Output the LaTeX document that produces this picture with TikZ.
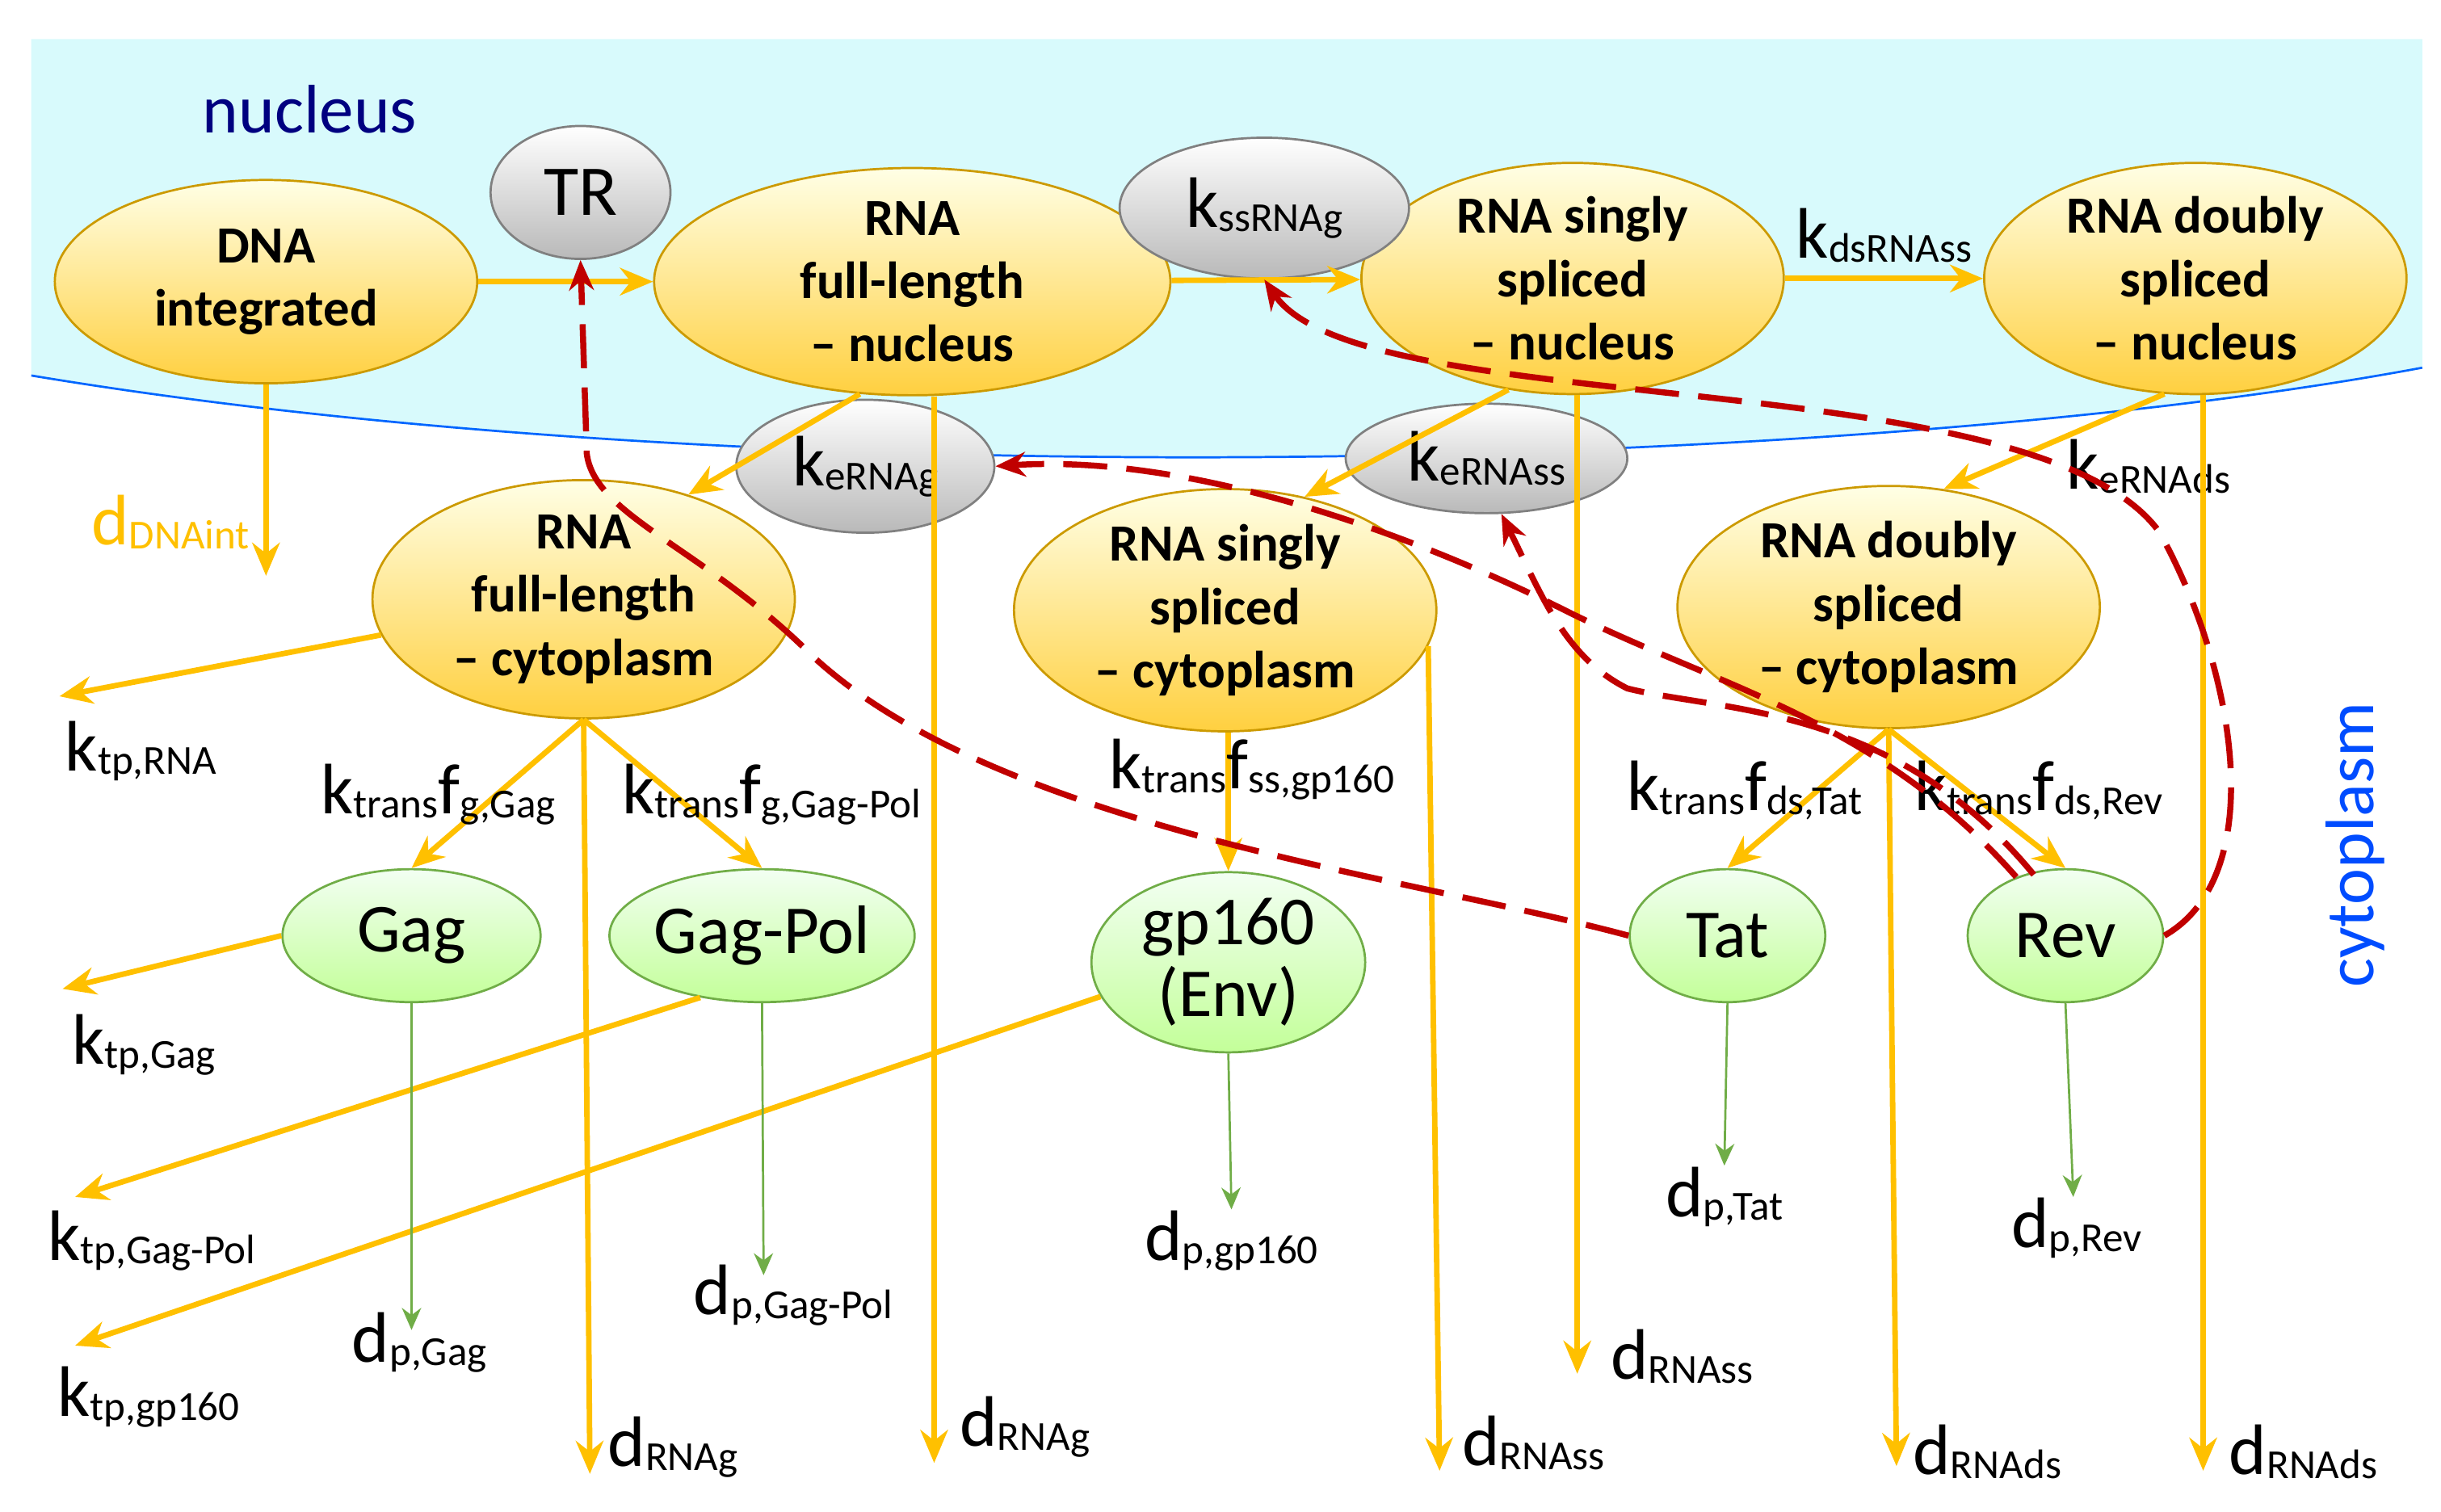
\documentclass[tikz,border=0pt]{standalone}
\usepackage{fontspec}
\setmainfont{Carlito}
\usetikzlibrary{shapes.geometric,arrows.meta}
\definecolor{orng}{HTML}{FFC000}
\definecolor{dred}{HTML}{C00000}
\definecolor{nucl}{HTML}{D8FAFC}
\definecolor{ngr}{HTML}{70AD47}
\newcommand\lb[2]{{\fontsize{26}{28}\selectfont #1}\raisebox{-0.3ex}{\fontsize{15}{16}\selectfont #2}}
\begin{document}
\begin{tikzpicture}[x=0.02cm,y=-0.02cm,
  yel/.style={ellipse,draw=orng!80!black,line width=0.8pt,top color=yellow!10,bottom color=orng!75,
    font=\fontsize{19}{23}\selectfont\bfseries,align=center,inner sep=0pt},
  gry/.style={ellipse,draw=gray,line width=0.8pt,top color=white,bottom color=gray!55,inner sep=0pt},
  grn/.style={ellipse,draw=ngr,line width=0.8pt,top color=green!5,bottom color=green!45!lime!40,
    font=\fontsize{25}{26}\selectfont,align=center,inner sep=0pt},
  oa/.style={-{Stealth[length=12pt,width=10pt]},orng,line width=2pt},
  ga/.style={-{Stealth[length=8pt,width=7pt]},ngr,line width=0.8pt},
  rd/.style={-{Stealth[length=11pt,width=9pt]},dred,line width=2.2pt,dash pattern=on 16pt off 7pt},
  lab/.style={inner sep=1pt}]
\useasboundingbox (0,0) rectangle (1560,966);
% nucleus
\fill[nucl] (20,25) -- (1548,25) -- (1548,235) .. controls (1200,300) and (500,320) .. (20,240) -- cycle;
\draw[blue!60!cyan,line width=0.8pt] (20,240) .. controls (500,320) and (1200,300) .. (1548,235);
\node[text=blue!50!black,font=\fontsize{25}{26}\selectfont] (nuc) at (198,70) {nucleus};
\node[text=blue!70!cyan,font=\fontsize{25}{26}\selectfont,rotate=90] (cyt) at (1505,540) {cytoplasm};
% RNA nodes
\node[yel,minimum width=5.4cm,minimum height=2.6cm] (dna) at (170,180) {DNA\\integrated};
\node[yel,minimum width=6.6cm,minimum height=2.7cm] (rfn) at (583,180) {RNA\\full-length\\– nucleus};
\node[yel,minimum width=5.4cm,minimum height=2.6cm] (rsn) at (1005,178) {RNA singly\\spliced\\– nucleus};
\node[yel,minimum width=5.4cm,minimum height=2.6cm] (rdn) at (1403,178) {RNA doubly\\spliced\\– nucleus};
\node[yel,minimum width=5.4cm,minimum height=2.6cm] (rfc) at (373,383) {RNA\\full-length\\– cytoplasm};
\node[yel,minimum width=5.4cm,minimum height=2.6cm] (rsc) at (783,390) {RNA singly\\spliced\\– cytoplasm};
\node[yel,minimum width=5.4cm,minimum height=2.5cm] (rdc) at (1207,388) {RNA doubly\\spliced\\– cytoplasm};
% rate nodes
\node[gry,minimum width=2.3cm,minimum height=1.7cm,font=\fontsize{26}{28}\selectfont] (tr) at (371,123) {TR};
\node[gry,minimum width=3.7cm,minimum height=1.8cm] (kss) at (808,133) {\lb{k}{ssRNAg}};
\node[gry,minimum width=3.3cm,minimum height=1.7cm] (keg) at (553,298) {\lb{k}{eRNAg}};
\node[gry,minimum width=3.6cm,minimum height=1.4cm] (kes) at (950,293) {\lb{k}{eRNAss}};
% proteins
\node[grn,minimum width=3.3cm,minimum height=1.7cm] (gag) at (263,598) {Gag};
\node[grn,minimum width=3.9cm,minimum height=1.7cm] (gp) at (487,598) {Gag-Pol};
\node[grn,minimum width=3.5cm,minimum height=1.8cm] (env) at (785,615) {gp160\\(Env)};
\node[grn,minimum width=2.5cm,minimum height=1.7cm] (tat) at (1104,598) {Tat};
\node[grn,minimum width=2.5cm,minimum height=1.7cm] (rev) at (1320,598) {Rev};
% free ends
\coordinate (eDNA) at (170,368);
\coordinate (eRfn) at (597,935);
\coordinate (eRsn) at (1008,878);
\coordinate (eRdn) at (1408,940);
\coordinate (eRfc) at (377,942);
\coordinate (tRNA) at (38,445);
\coordinate (eRsc) at (920,940);
\coordinate (eRdc) at (1212,937);
\coordinate (tGag) at (40,632);
\coordinate (tGP) at (48,765);
\coordinate (tEnv) at (48,860);
\coordinate (dGag) at (263,850);
\coordinate (dGP) at (488,815);
\coordinate (dEnv) at (787,773);
\coordinate (dTat) at (1102,745);
\coordinate (dRev) at (1325,765);
% orange transitions
\draw[oa] (dna) -- (rfn);
\draw[oa] (rfn) -- (rsn);
\draw[oa] (rsn) -- (rdn) node[midway,above=4pt,lab,text=black] {\lb{k}{dsRNAss}};
\draw[oa] (dna.south) -- (eDNA) node[pos=0.72,left=4pt,lab] {\lb{d}{DNAint}};
\draw[oa] (rfn.-115) -- (rfc.45);
\draw[oa] (rsn.-120) -- (rsc.55);
\draw[oa] (rdn.-105) -- (rdc.65);
\node[lab] (lkeds) at (1373,298) {\lb{k}{eRNAds}};
\draw[oa] (rfn.south -| eRfn) -- (eRfn) node[right=6pt,above right=0pt,lab] {};
\node[lab] (ldrg2) at (655,912) {\lb{d}{RNAg}};
\draw[oa] (rsn.south -| eRsn) -- (eRsn);
\node[lab] (ldrs1) at (1075,867) {\lb{d}{RNAss}};
\draw[oa] (rdn.south -| eRdn) -- (eRdn);
\node[lab] (ldrd2) at (1472,928) {\lb{d}{RNAds}};
\draw[oa] (rfc.190) -- (tRNA);
\node[lab] (lktr) at (90,480) {\lb{k}{tp,RNA}};
\draw[oa] (rfc.south) -- (eRfc);
\node[lab] (ldrg1) at (430,925) {\lb{d}{RNAg}};
\draw[oa] (rfc.south) -- (gag.north);
\draw[oa] (rfc.south) -- (gp.north);
\node[lab] (lkg) at (280,508) {\lb{k}{trans}\lb{f}{g,Gag}};
\node[lab] (lkgp) at (493,508) {\lb{k}{trans}\lb{f}{g,Gag-Pol}};
\draw[oa] (rsc.south -| env.north) -- (env.north);
\node[lab] (lkss) at (800,492) {\lb{k}{trans}\lb{f}{ss,gp160}};
\draw[oa] (rsc.-10 |- rsc.-10) -- (eRsc);
\node[lab] (ldrs2) at (980,922) {\lb{d}{RNAss}};
\draw[oa] (rdc.south) -- (tat.north);
\draw[oa] (rdc.south) -- (rev.north);
\draw[oa] (rdc.south) -- (eRdc);
\node[lab] (ldrd1) at (1270,928) {\lb{d}{RNAds}};
\node[lab] (lkt) at (1115,505) {\lb{k}{trans}\lb{f}{ds,Tat}};
\node[lab] (lkr) at (1303,505) {\lb{k}{trans}\lb{f}{ds,Rev}};
% protein decay / transport
\draw[oa] (gag.west) -- (tGag);
\node[lab] (lktg) at (92,668) {\lb{k}{tp,Gag}};
\draw[oa] (gp.-135) -- (tGP);
\node[lab] (lktgp) at (97,793) {\lb{k}{tp,Gag-Pol}};
\draw[oa] (env.195) -- (tEnv);
\node[lab] (lkte) at (95,893) {\lb{k}{tp,gp160}};
\draw[ga] (gag.south) -- (dGag);
\node[lab] (ldg) at (268,858) {\lb{d}{p,Gag}};
\draw[ga] (gp.south) -- (dGP);
\node[lab] (ldgp) at (507,828) {\lb{d}{p,Gag-Pol}};
\draw[ga] (env.south) -- (dEnv);
\node[lab] (lde) at (787,793) {\lb{d}{p,gp160}};
\draw[ga] (tat.south) -- (dTat);
\node[lab] (ldt) at (1102,765) {\lb{d}{p,Tat}};
\draw[ga] (rev.south) -- (dRev);
\node[lab] (ldr) at (1327,785) {\lb{d}{p,Rev}};
% regulation by Tat and Rev
\draw[rd] (tat.west) .. controls (900,560) and (640,530) .. (520,420)
  .. controls (450,350) and (380,330) .. (375,290) -- (tr.south);
\draw[rd] (rev.east) .. controls (1450,560) and (1430,430) .. (1380,340)
  .. controls (1300,230) and (870,270) .. (kss.south);
\draw[rd] (rev.130) .. controls (1200,460) and (1100,440) .. (1000,390)
  .. controls (900,340) and (760,290) .. (keg.east);
\draw[rd] ([xshift=4pt]rev.125) .. controls (1210,450) and (1100,455) .. (1040,440)
  .. controls (1000,420) and (985,380) .. (kes.-75);
\end{tikzpicture}
\end{document}
